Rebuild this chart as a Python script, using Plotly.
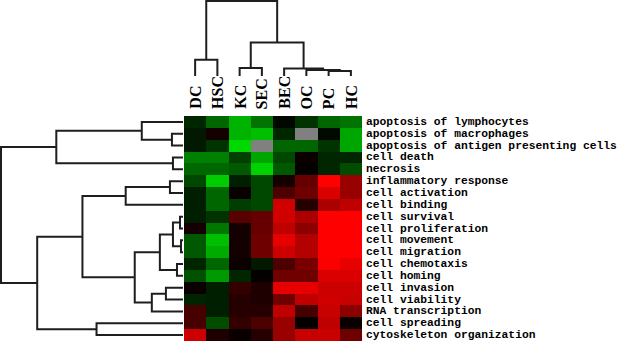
import plotly.graph_objects as go

W, H = 623, 343

columns = ["DC", "HSC", "KC", "SEC", "BEC", "OC", "PC", "HC"]
rows = [
    "apoptosis of lymphocytes",
    "apoptosis of macrophages",
    "apoptosis of antigen presenting cells",
    "cell death",
    "necrosis",
    "inflammatory response",
    "cell activation",
    "cell binding",
    "cell survival",
    "cell proliferation",
    "cell movement",
    "cell migration",
    "cell chemotaxis",
    "cell homing",
    "cell invasion",
    "cell viability",
    "RNA transcription",
    "cell spreading",
    "cytoskeleton organization",
]
N = None
values = [
    [-0.15, -0.40, -0.70, -0.45, -0.03, -0.20, -0.40, -0.45],
    [-0.10, 0.08, -0.70, -0.75, -0.15, N, -0.04, -0.65],
    [-0.10, -0.20, -0.85, N, -0.40, -0.40, -0.20, -0.65],
    [-0.50, -0.50, -0.25, -0.65, -0.28, 0.04, -0.15, -0.15],
    [-0.40, -0.40, -0.35, -0.82, -0.35, 0.02, -0.15, -0.30],
    [-0.28, -0.80, -0.12, -0.28, 0.08, 0.40, 1.00, 0.60],
    [-0.12, -0.40, 0.04, -0.28, 0.30, 0.43, 0.86, 0.60],
    [-0.12, -0.40, -0.24, -0.28, 0.82, 0.15, 0.67, 0.75],
    [-0.12, -0.20, 0.35, 0.40, 0.82, 0.67, 1.00, 1.00],
    [0.08, -0.47, 0.08, 0.40, 0.75, 0.55, 1.00, 1.00],
    [-0.35, -0.75, 0.08, 0.43, 0.90, 0.70, 1.00, 1.00],
    [-0.35, -0.67, 0.08, 0.43, 0.80, 0.70, 1.00, 1.00],
    [-0.15, -0.40, 0.04, -0.10, 0.30, 0.47, 0.98, 0.90],
    [-0.32, -0.60, -0.15, 0.02, 0.43, 0.43, 0.86, 0.86],
    [0.04, -0.12, 0.20, 0.12, 0.90, 0.90, 0.80, 0.80],
    [-0.14, -0.12, 0.15, 0.12, 0.43, 0.75, 0.82, 0.78],
    [0.28, -0.12, 0.15, 0.15, 0.75, 0.28, 0.78, 0.55],
    [0.28, -0.30, 0.20, 0.30, 0.60, 0.02, 0.75, 0.04],
    [0.80, 0.12, 0.04, 0.15, 0.60, 0.78, 0.78, 0.43],
]

# hierarchical merges: (child a, child b, height); new nodes numbered after leaves
row_linkage = [
    (1, 2, 11), (0, 19, 41), (3, 4, 10), (20, 21, 126),
    (5, 6, 13), (7, 23, 57), (8, 9, 3), (10, 11, 2),
    (25, 26, 10), (12, 13, 6), (27, 28, 23), (14, 15, 17),
    (16, 30, 31), (29, 31, 48), (24, 32, 100), (17, 18, 86),
    (33, 34, 145), (22, 35, 181),
]
col_linkage = [
    (0, 1, 16), (2, 3, 8), (6, 7, 5), (5, 10, 6),
    (4, 11, 7.5), (9, 12, 33), (8, 13, 74),
]


def dendro_segments(n_leaves, linkage):
    pos = {i: float(i) for i in range(n_leaves)}
    hgt = {i: 0.0 for i in range(n_leaves)}
    P, Hs = [], []
    for k, (a, b, h) in enumerate(linkage):
        node = n_leaves + k
        P += [pos[a], pos[a], pos[b], pos[b], None]
        Hs += [hgt[a], h, h, hgt[b], None]
        pos[node] = (pos[a] + pos[b]) / 2
        hgt[node] = h
    return P, Hs


LINE = dict(color="#1e1e1e", width=2)
fig = go.Figure()

cs = [[0, "rgb(0,255,0)"], [0.5, "rgb(0,0,0)"], [1, "rgb(255,0,0)"]]
fig.add_trace(go.Heatmap(z=values, x=list(range(len(columns))), y=list(range(len(rows))),
                         colorscale=cs, zmin=-1, zmax=1, showscale=False,
                         xaxis="x", yaxis="y", hoverongaps=False))
mask = [[1 if v is None else None for v in r] for r in values]
fig.add_trace(go.Heatmap(z=mask, x=list(range(len(columns))), y=list(range(len(rows))),
                         colorscale=[[0, "#808080"], [1, "#808080"]], showscale=False,
                         xaxis="x", yaxis="y", hoverongaps=False))

rp, rh = dendro_segments(len(rows), row_linkage)
fig.add_trace(go.Scatter(x=rh, y=rp, mode="lines", line=LINE, xaxis="x2", yaxis="y",
                         hoverinfo="skip", showlegend=False))
cp, ch = dendro_segments(len(columns), col_linkage)
fig.add_trace(go.Scatter(x=cp, y=ch, mode="lines", line=LINE, xaxis="x", yaxis="y3",
                         hoverinfo="skip", showlegend=False))

hm_x0, hm_x1 = 184 / W, 362 / W
hm_top, hm_bot = 116, 341
ax_off = dict(showgrid=False, zeroline=False, showticklabels=False, ticks="", showline=False)

annotations = []
for i, r in enumerate(rows):
    annotations.append(dict(text=r, xref="paper", yref="y", x=364 / W, y=i,
                            xanchor="left", yanchor="middle", showarrow=False,
                            font=dict(family="Liberation Mono", size=11.3, color="black", weight="bold")))
for j, c in enumerate(columns):
    annotations.append(dict(text=c, xref="x", yref="paper", x=j, y=1 - 111 / H,
                            xanchor="center", yanchor="bottom", textangle=-90, showarrow=False,
                            font=dict(family="Liberation Serif", size=16, color="black", weight="bold")))

fig.update_layout(
    width=W, height=H, margin=dict(l=0, r=0, t=0, b=0),
    paper_bgcolor="white", plot_bgcolor="white", showlegend=False,
    xaxis=dict(domain=[hm_x0, hm_x1], range=[-0.5, len(columns) - 0.5], anchor="y", **ax_off),
    yaxis=dict(domain=[1 - hm_bot / H, 1 - hm_top / H], range=[len(rows) - 0.5, -0.5], anchor="x", **ax_off),
    xaxis2=dict(domain=[0, 183 / W], range=[182, 0], anchor="y", **ax_off),
    yaxis3=dict(domain=[1 - 76 / H, 1], range=[0, 75], anchor="x", **ax_off),
    annotations=annotations,
)

fig.write_html("out.html")
